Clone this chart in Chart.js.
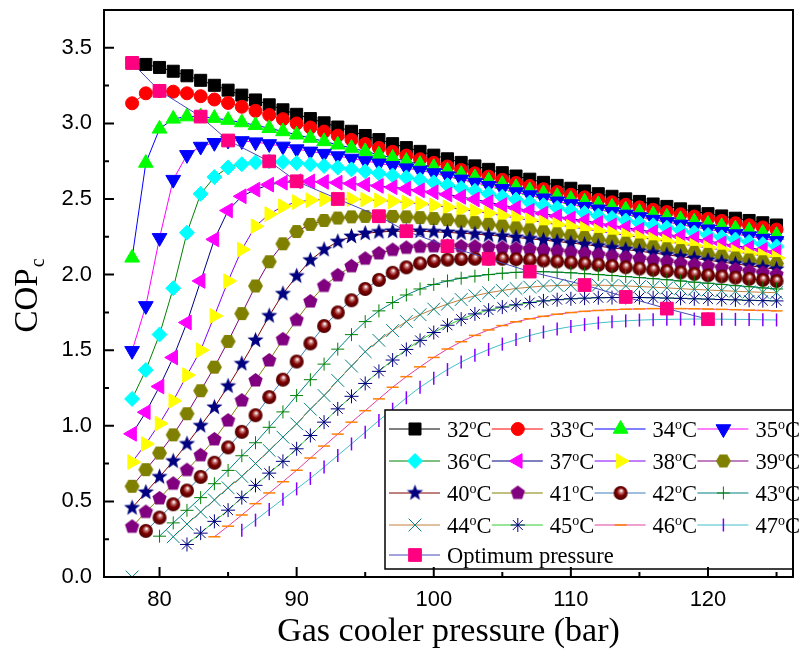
<!DOCTYPE html>
<html>
<head>
<meta charset="utf-8">
<script src="https://cdn.jsdelivr.net/npm/chart.js@4.4.1/dist/chart.umd.min.js"></script>
<style>
html,body{margin:0;padding:0;background:#fff;}
#wrap{width:803px;height:652px;}
</style>
</head>
<body>
<div id="wrap"><canvas id="cop" width="803" height="652"></canvas></div>
<script>
// gas cooler pressure (bar)
const pressure = [78,79,80,81,82,83,84,85,86,87,88,89,90,91,92,93,94,95,96,97,98,99,100,
  101,102,103,104,105,106,107,108,109,110,111,112,113,114,115,116,117,118,119,120,121,122,123,124,125];

// gas cooler exit temperature of each curve (degC)
const temps = [32,33,34,35,36,37,38,39,40,41,42,43,44,45,46,47];

// COPc, one value per pressure (null = no point)
const cop32 = [3.40,3.39,3.37,3.345,3.315,3.285,3.252,3.22,3.187,3.155,3.123,3.09,3.06,
  3.032,3.004,2.976,2.948,2.92,2.893,2.866,2.84,2.815,2.79,
  2.766,2.742,2.719,2.696,2.674,2.652,2.631,2.61,2.59,2.571,
  2.553,2.535,2.518,2.501,2.484,2.467,2.451,2.435,2.419,2.403,
  2.388,2.373,2.358,2.343,2.328];
const cop33 = [3.133,3.199,3.215,3.21,3.199,3.18,3.158,3.135,3.11,3.083,3.056,3.028,3.00,
  2.973,2.946,2.919,2.891,2.864,2.838,2.812,2.787,2.763,2.739,
  2.715,2.692,2.670,2.648,2.627,2.606,2.586,2.565,2.546,2.528,
  2.511,2.494,2.478,2.462,2.445,2.429,2.414,2.399,2.384,2.369,
  2.355,2.340,2.326,2.312,2.298];
const cop34 = [2.111,2.738,2.964,3.03,3.045,3.045,3.035,3.022,3.006,2.988,2.968,2.947,2.925,
  2.903,2.881,2.859,2.837,2.815,2.793,2.771,2.75,2.73,2.71,
  2.687,2.664,2.642,2.62,2.598,2.577,2.557,2.537,2.518,2.499,
  2.481,2.464,2.447,2.43,2.413,2.397,2.381,2.365,2.349,2.334,
  2.319,2.304,2.29,2.275,2.26];
const cop35 = [1.496,1.793,2.243,2.628,2.792,2.847,2.872,2.887,2.884,2.876,2.864,2.848,2.83,
  2.815,2.80,2.784,2.768,2.752,2.736,2.72,2.704,2.688,2.672,
  2.651,2.63,2.609,2.588,2.567,2.546,2.526,2.505,2.485,2.467,
  2.449,2.432,2.415,2.398,2.381,2.364,2.348,2.332,2.316,2.30,
  2.284,2.268,2.253,2.238,2.223];
const cop36 = [1.178,1.369,1.604,1.91,2.277,2.534,2.645,2.709,2.73,2.742,2.749,2.745,2.738,
  2.729,2.719,2.708,2.696,2.683,2.67,2.656,2.643,2.627,2.61,
  2.592,2.573,2.554,2.535,2.515,2.496,2.477,2.459,2.441,2.424,
  2.407,2.39,2.374,2.358,2.342,2.326,2.31,2.294,2.278,2.262,
  2.247,2.232,2.216,2.201,2.186];
const cop37 = [0.947,1.09,1.26,1.452,1.683,1.958,2.233,2.424,2.518,2.562,2.595,2.608,2.617,
  2.616,2.613,2.608,2.602,2.595,2.587,2.578,2.568,2.557,2.545,
  2.53,2.514,2.497,2.479,2.46,2.441,2.422,2.404,2.386,2.371,
  2.356,2.341,2.326,2.311,2.296,2.281,2.267,2.252,2.237,2.222,
  2.207,2.192,2.177,2.163,2.148];
const cop38 = [0.76,0.88,1.015,1.165,1.335,1.50,1.727,1.957,2.166,2.32,2.40,2.452,2.48,
  2.492,2.498,2.50,2.499,2.496,2.491,2.485,2.477,2.468,2.458,
  2.446,2.433,2.419,2.405,2.39,2.375,2.36,2.345,2.33,2.316,
  2.302,2.288,2.274,2.26,2.246,2.232,2.218,2.204,2.19,2.177,
  2.164,2.151,2.138,2.124,2.11];
const cop39 = [0.60,0.71,0.82,0.94,1.08,1.232,1.388,1.558,1.742,1.925,2.085,2.204,2.285,
  2.332,2.358,2.374,2.382,2.385,2.386,2.385,2.382,2.377,2.371,
  2.363,2.354,2.344,2.333,2.321,2.309,2.296,2.283,2.27,2.258,
  2.245,2.233,2.221,2.208,2.196,2.184,2.171,2.159,2.147,2.134,
  2.122,2.11,2.097,2.085,2.073];
const cop40 = [0.457,0.56,0.662,0.766,0.88,1.0,1.122,1.262,1.41,1.565,1.727,1.873,1.99,
  2.095,2.165,2.218,2.252,2.272,2.282,2.286,2.287,2.286,2.283,
  2.279,2.274,2.268,2.261,2.254,2.246,2.237,2.228,2.219,2.209,
  2.199,2.188,2.177,2.166,2.155,2.143,2.131,2.119,2.107,2.095,
  2.083,2.071,2.059,2.047,2.035];
const cop41 = [0.332,0.43,0.52,0.617,0.707,0.805,0.91,1.035,1.167,1.30,1.432,1.572,1.70,
  1.822,1.925,1.995,2.055,2.105,2.14,2.163,2.177,2.184,2.187,
  2.188,2.187,2.185,2.181,2.177,2.172,2.167,2.161,2.155,2.148,
  2.14,2.132,2.123,2.114,2.105,2.095,2.085,2.075,2.065,2.055,
  2.045,2.034,2.023,2.012,2.0];
const cop42 = [null,0.305,0.393,0.481,0.572,0.662,0.756,0.857,0.96,1.07,1.19,1.305,1.425,
  1.545,1.66,1.75,1.83,1.905,1.965,2.012,2.048,2.074,2.09,
  2.099,2.103,2.105,2.106,2.105,2.102,2.098,2.093,2.087,2.08,
  2.073,2.065,2.057,2.049,2.04,2.032,2.023,2.014,2.005,1.996,
  1.988,1.98,1.972,1.965,1.958];
const cop43 = [null,null,0.27,0.358,0.441,0.525,0.617,0.705,0.802,0.888,0.99,1.092,1.2,
  1.305,1.408,1.507,1.603,1.689,1.76,1.815,1.865,1.905,1.935,
  1.958,1.976,1.99,2.0,2.009,2.015,2.02,2.019,2.016,2.012,
  2.006,2.0,1.994,1.987,1.98,1.973,1.966,1.958,1.95,1.943,
  1.935,1.927,1.92,1.912,1.905];
const cop44 = [0.0,null,null,0.266,0.35,0.43,0.51,0.59,0.665,0.75,0.837,0.925,1.013,
  1.11,1.20,1.30,1.395,1.49,1.565,1.63,1.69,1.735,1.772,
  1.805,1.835,1.86,1.88,1.895,1.908,1.917,1.924,1.928,1.93,
  1.931,1.93,1.928,1.925,1.921,1.917,1.912,1.907,1.902,1.898,
  1.894,1.89,1.886,1.883,1.88];
const cop45 = [null,null,null,null,0.215,0.29,0.368,0.442,0.525,0.606,0.687,0.765,0.848,
  0.936,1.024,1.112,1.195,1.28,1.36,1.435,1.505,1.565,1.617,
  1.665,1.705,1.74,1.765,1.785,1.80,1.815,1.826,1.834,1.84,
  1.844,1.847,1.848,1.849,1.848,1.847,1.845,1.843,1.84,1.838,
  1.835,1.833,1.83,1.828,1.826];
const cop46 = [null,null,null,null,null,null,0.266,0.336,0.41,0.485,0.556,0.63,0.706,
  0.787,0.866,0.945,1.024,1.10,1.178,1.255,1.325,1.39,1.452,
  1.508,1.556,1.598,1.634,1.663,1.688,1.708,1.724,1.738,1.749,
  1.757,1.763,1.768,1.771,1.773,1.775,1.775,1.775,1.774,1.772,
  1.77,1.768,1.765,1.763,1.76];
const cop47 = [null,null,null,null,null,null,null,null,0.31,0.376,0.446,0.515,0.583,
  0.652,0.727,0.804,0.88,0.958,1.035,1.11,1.185,1.255,1.315,
  1.372,1.422,1.466,1.505,1.54,1.57,1.597,1.62,1.64,1.656,
  1.669,1.68,1.688,1.694,1.699,1.702,1.704,1.705,1.706,1.706,
  1.705,1.704,1.703,1.701,1.70];

// optimum pressure of each curve and its COPc
const optPressure = [78,80,83,85,88,90,93,96,98,101,104,107,111,114,117,120];
const optCop = [3.40,3.215,3.045,2.887,2.749,2.617,2.50,2.386,2.287,2.188,2.105,2.02,1.931,1.852,1.775,1.705];

const copSeries = [cop32,cop33,cop34,cop35,cop36,cop37,cop38,cop39,cop40,cop41,cop42,cop43,cop44,cop45,cop46,cop47];

// ---- styles ----
const lineColors = ['#000000','#ff0000','#0000ff','#ff00ff','#008000','#000080','#8000ff','#800080',
  '#800000','#808000','#3f7fbf','#008080','#c0803f','#33cc33','#e0409f','#40c0c8'];
const markColors = ['#000000','#ff0000','#00ff00','#0000ff','#00ffff','#ff00ff','#ffff00','#808000',
  '#000080','#800080','#800000','#008000','#008080','#000080','#ff8000','#8000ff'];

function polyMark(n, r, fill, rot, inner) {
  const s = Math.ceil(2 * r + 2), c = document.createElement('canvas');
  c.width = s; c.height = s;
  const g = c.getContext('2d');
  g.translate(s / 2, s / 2);
  g.beginPath();
  const k = inner ? n * 2 : n;
  for (let i = 0; i < k; i++) {
    const a = rot + i * Math.PI * 2 / k;
    const rr = inner && i % 2 ? inner : r;
    g.lineTo(rr * Math.cos(a), rr * Math.sin(a));
  }
  g.closePath();
  g.fillStyle = fill;
  g.fill();
  return c;
}
function sphereMark(r) {
  const s = Math.ceil(2 * r + 2), c = document.createElement('canvas');
  c.width = s; c.height = s;
  const g = c.getContext('2d'), m = s / 2;
  const grad = g.createRadialGradient(m + 0.1 * r, m - 0.35 * r, 0.4, m, m, r);
  grad.addColorStop(0, '#ffffff');
  grad.addColorStop(0.25, '#c07070');
  grad.addColorStop(0.55, '#800000');
  grad.addColorStop(1, '#4a0000');
  g.fillStyle = grad;
  g.beginPath(); g.arc(m, m, r, 0, Math.PI * 2); g.fill();
  return c;
}

const marks = [
  {style: 'rect', r: 8.5, bw: 1},
  {style: 'circle', r: 6.5, bw: 1},
  {style: 'triangle', r: 8.5, bw: 1},
  {style: 'triangle', r: 8.5, rot: 180, bw: 1},
  {style: 'rectRot', r: 7.5, bw: 1},
  {style: 'triangle', r: 8.5, rot: -90, bw: 1},
  {style: 'triangle', r: 8.5, rot: 90, bw: 1},
  {style: polyMark(6, 7.5, '#808000', 0), r: 7.5, bw: 0},
  {style: polyMark(5, 8.5, '#000080', -Math.PI / 2, 3.6), r: 8.5, bw: 0},
  {style: polyMark(5, 7.5, '#800080', -Math.PI / 2), r: 7.5, bw: 0},
  {style: sphereMark(7), r: 7, bw: 0},
  {style: 'cross', r: 6.5, bw: 1},
  {style: 'crossRot', r: 9, bw: 1},
  {style: 'star', r: 7, bw: 1},
  {style: 'line', r: 6, bw: 1.5},
  {style: 'line', r: 6.5, rot: 90, bw: 1.5}
];

const datasets = copSeries.map((arr, i) => ({
  label: temps[i] + '\u00b0C',
  data: pressure.map((p, j) => ({x: p, y: arr[j]})),
  borderColor: lineColors[i],
  borderWidth: 1,
  pointStyle: marks[i].style,
  pointRadius: marks[i].r,
  pointHoverRadius: marks[i].r,
  pointRotation: marks[i].rot || 0,
  pointBorderWidth: marks[i].bw,
  pointBackgroundColor: markColors[i],
  pointBorderColor: markColors[i],
  tension: 0,
  clip: 0,
  order: 16 - i
}));
datasets.push({
  label: 'Optimum pressure',
  data: optPressure.map((p, j) => ({x: p, y: optCop[j]})),
  borderColor: '#4848b8',
  borderWidth: 1,
  pointStyle: 'rect',
  pointRadius: 9,
  pointHoverRadius: 9,
  pointRotation: 0,
  pointBorderWidth: 1,
  pointBackgroundColor: '#ff0080',
  pointBorderColor: '#ff0080',
  tension: 0,
  clip: 0,
  order: -1
});

// legend box: 4 columns, line + marker + label
const boxLegend = {
  id: 'boxLegend',
  afterDatasetsDraw(chart) {
    const ctx = chart.ctx;
    const right = chart.chartArea.right;
    ctx.save();
    ctx.fillStyle = '#fff';
    ctx.fillRect(385, 410, right - 385, 159);
    ctx.lineWidth = 1.5;
    ctx.strokeStyle = '#000';
    ctx.strokeRect(385, 410, right - 385, 159);
    chart.data.datasets.forEach((ds, i) => {
      const col = i < 16 ? i % 4 : 0;
      const row = i < 16 ? Math.floor(i / 4) : 4;
      const x0 = 389 + col * 102.8;
      const yc = row < 4 ? 429 + row * 32 : 555;
      ctx.strokeStyle = ds.borderColor;
      ctx.lineWidth = 1;
      ctx.beginPath(); ctx.moveTo(x0, yc); ctx.lineTo(x0 + 51, yc); ctx.stroke();
      ctx.fillStyle = ds.pointBackgroundColor;
      ctx.strokeStyle = ds.pointBorderColor;
      ctx.lineWidth = ds.pointBorderWidth;
      Chart.helpers.drawPoint(ctx, {
        pointStyle: ds.pointStyle, rotation: ds.pointRotation,
        radius: ds.pointRadius, borderWidth: ds.pointBorderWidth
      }, x0 + 26, yc);
      ctx.fillStyle = '#000';
      ctx.textAlign = 'left';
      ctx.textBaseline = 'alphabetic';
      const tx = x0 + 58, base = yc + 8;
      ctx.font = '22.5px "Liberation Serif"';
      if (i < 16) {
        const t = String(temps[i]);
        ctx.fillText(t, tx, base);
        let w = ctx.measureText(t).width;
        ctx.font = '14px "Liberation Serif"';
        ctx.fillText('o', tx + w, base - 8);
        w += ctx.measureText('o').width;
        ctx.font = '22.5px "Liberation Serif"';
        ctx.fillText('C', tx + w, base);
      } else {
        ctx.fillText('Optimum pressure', tx, base);
      }
    });
    ctx.restore();
  }
};

// box frame with inward ticks (drawn after the legend)
const frameTicks = {
  id: 'frameTicks',
  afterDatasetsDraw(chart) {
    const {ctx, chartArea: a, scales: {x, y}} = chart;
    ctx.save();
    ctx.strokeStyle = '#000';
    ctx.lineWidth = 2;
    ctx.strokeRect(a.left, a.top, a.right - a.left, a.bottom - a.top);
    ctx.beginPath();
    for (let v = 75; v <= 130; v += 5) {
      if (v <= x.min || v >= x.max) continue;
      const px = x.getPixelForValue(v);
      ctx.moveTo(px, a.bottom);
      ctx.lineTo(px, a.bottom - (v % 10 === 0 ? 10 : 5));
    }
    for (let i = 1; i <= 14; i++) {
      const py = y.getPixelForValue(i * 0.25);
      ctx.moveTo(a.left, py);
      ctx.lineTo(a.left + (i % 2 === 0 ? 10 : 5), py);
    }
    ctx.stroke();
    ctx.restore();
  }
};

// y title with subscript
const yTitle = {
  id: 'yTitle',
  afterDraw(chart) {
    const ctx = chart.ctx;
    ctx.save();
    ctx.translate(37, 296);
    ctx.rotate(-Math.PI / 2);
    ctx.fillStyle = '#000';
    ctx.textBaseline = 'alphabetic';
    ctx.textAlign = 'left';
    ctx.font = '33px "Liberation Serif"';
    const w1 = ctx.measureText('COP').width;
    ctx.font = '20px "Liberation Serif"';
    const w2 = ctx.measureText('c').width;
    const x0 = -(w1 + w2) / 2;
    ctx.font = '33px "Liberation Serif"';
    ctx.fillText('COP', x0, 0);
    ctx.font = '20px "Liberation Serif"';
    ctx.fillText('c', x0 + w1 + 1, 7);
    ctx.restore();
  }
};

new Chart(document.getElementById('cop'), {
  type: 'line',
  data: {datasets: datasets},
  options: {
    responsive: false,
    animation: false,
    devicePixelRatio: 1,
    layout: {padding: {top: 8, right: 2, left: 0, bottom: 0}},
    plugins: {legend: {display: false}, tooltip: {enabled: false}},
    scales: {
      x: {
        type: 'linear',
        min: 75.95,
        max: 126.2,
        afterFit: s => { s.height = 75; s.paddingLeft = 0; s.paddingRight = 0; },
        grid: {display: false, drawTicks: false},
        border: {display: false},
        ticks: {
          stepSize: 10,
          includeBounds: false,
          padding: 10,
          color: '#000',
          font: {family: '"Liberation Sans"', size: 22},
          callback: v => String(v)
        },
        title: {
          display: true,
          text: 'Gas cooler pressure (bar)',
          color: '#000',
          font: {family: '"Liberation Serif"', size: 34},
          padding: {top: 0, bottom: 0}
        }
      },
      y: {
        min: 0,
        max: 3.75,
        afterFit: s => { s.width = 104; s.paddingTop = 0; s.paddingBottom = 0; },
        grid: {display: false, drawTicks: false},
        border: {display: false},
        ticks: {
          stepSize: 0.5,
          includeBounds: false,
          padding: 12,
          color: '#000',
          font: {family: '"Liberation Sans"', size: 22},
          callback: v => v.toFixed(1)
        }
      }
    }
  },
  plugins: [boxLegend, frameTicks, yTitle]
});
</script>
</body>
</html>
